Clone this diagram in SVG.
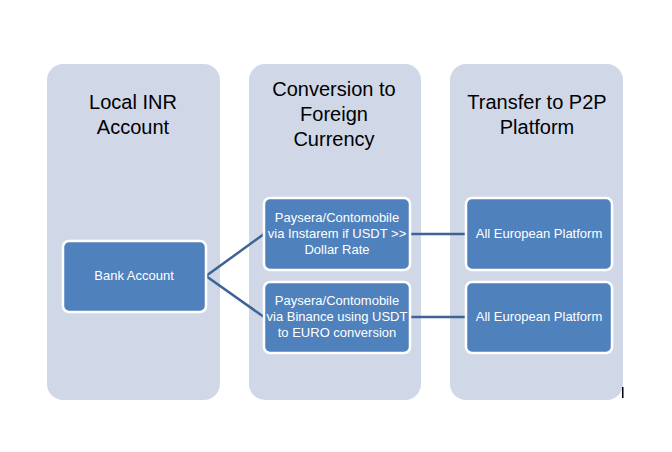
<svg xmlns="http://www.w3.org/2000/svg" width="672" height="452" viewBox="0 0 672 452">
<style>
.col{fill:#D0D8E8}
.box{fill:#4F81BD;stroke:#FFFFFF;stroke-width:2.5}
.h{font-family:"Liberation Sans",Arial,sans-serif;font-size:20px;fill:#000;text-anchor:middle}
.t{font-family:"Liberation Sans",Arial,sans-serif;font-size:13px;fill:#FFFFFF;text-anchor:middle}
.c{stroke:#3E6494;stroke-width:2.5;fill:none}
</style>
<rect width="672" height="452" fill="#FFFFFF"/>
<g id="col1">
<rect class="col" x="47" y="64" width="173" height="336" rx="16"/>
<text class="h" x="133" y="109">Local INR</text>
<text class="h" x="133" y="134">Account</text>
</g>
<g id="col2">
<rect class="col" x="249" y="64" width="172" height="336" rx="16"/>
<text class="h" x="334" y="96">Conversion to</text>
<text class="h" x="334" y="121">Foreign</text>
<text class="h" x="334" y="146">Currency</text>
</g>
<g id="col3">
<rect class="col" x="450" y="64" width="173" height="336" rx="16"/>
<text class="h" x="537" y="109">Transfer to P2P</text>
<text class="h" x="537" y="134">Platform</text>
</g>
<g id="connectors">
<polyline class="c" points="264,234 206,276 264,317"/>
<line class="c" x1="410" y1="234" x2="466" y2="234"/>
<line class="c" x1="410" y1="317" x2="466" y2="317"/>
</g>
<g id="bank">
<rect class="box" x="63" y="241" width="143" height="71" rx="6"/>
<text class="t" x="134" y="280">Bank Account</text>
</g>
<g id="conv1">
<rect class="box" x="264" y="198" width="146" height="72" rx="6"/>
<text class="t" x="337" y="222">Paysera/Contomobile</text>
<text class="t" x="337" y="238">via Instarem if USDT &gt;&gt;</text>
<text class="t" x="337" y="254">Dollar Rate</text>
</g>
<g id="conv2">
<rect class="box" x="264" y="282" width="146" height="71" rx="6"/>
<text class="t" x="337" y="305">Paysera/Contomobile</text>
<text class="t" x="337" y="321">via Binance using USDT</text>
<text class="t" x="337" y="337">to EURO conversion</text>
</g>
<g id="p2p1">
<rect class="box" x="466" y="198" width="146" height="72" rx="6"/>
<text class="t" x="539" y="238">All European Platform</text>
</g>
<g id="p2p2">
<rect class="box" x="466" y="282" width="146" height="71" rx="6"/>
<text class="t" x="539" y="321">All European Platform</text>
</g>
<rect x="622" y="387" width="1.5" height="11" fill="#000"/>
</svg>
